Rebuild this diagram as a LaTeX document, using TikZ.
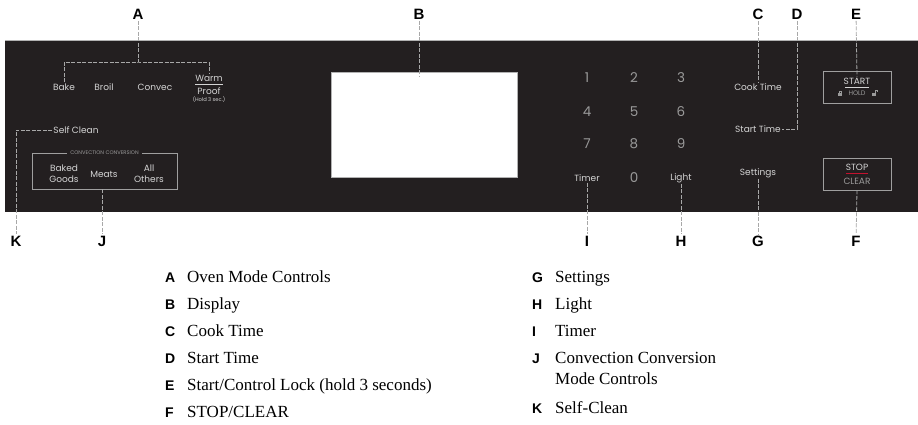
\documentclass[tikz,border=0pt]{standalone}
\usepackage{fontspec}
\setmainfont{Liberation Serif}
\newfontfamily\keyfont{Liberation Sans}
\newfontfamily\panelfont{Poppins}
\definecolor{panelbg}{HTML}{231F20}
\definecolor{paneltext}{HTML}{D4D4D4}
\definecolor{digitgray}{HTML}{9A9A9A}
\definecolor{leadergray}{HTML}{A8A8A8}
\definecolor{stopred}{HTML}{C4122F}
\begin{document}
\begin{tikzpicture}[x=1pt,y=-1pt,
  callout/.style={font=\keyfont\bfseries\fontsize{15}{15}\selectfont,inner sep=1.5pt},
  leader/.style={draw=leadergray,line width=0.8pt,dash pattern=on 4pt off 1.5pt},
  btn/.style={font=\panelfont\fontsize{9}{11}\selectfont,text=paneltext,inner sep=1pt},
  tinytext/.style={font=\panelfont\fontsize{5.2}{6}\selectfont,text=digitgray,inner sep=1pt},
  digit/.style={font=\panelfont\fontsize{13.5}{14}\selectfont,text=digitgray},
  frame/.style={draw=gray!75,line width=0.8pt,inner sep=0pt},
  keyletter/.style={font=\keyfont\bfseries\fontsize{14}{14}\selectfont,anchor=base west,inner sep=0pt},
  keytext/.style={font=\fontsize{17}{21}\selectfont,anchor=base west,align=left,inner sep=0pt}]
\useasboundingbox (0,0) rectangle (918,424);

% panel and display
\fill[panelbg] (5,40) rectangle (918,212);
\draw[gray!60,line width=0.5pt] (5,40) -- (918,40);
\node[fill=white,draw=gray!60,minimum width=186pt,minimum height=105pt,inner sep=0pt] (display) at (424,124.5) {};

% callout letters
\node[callout] (A) at (138,14) {A};
\node[callout] (B) at (419,14) {B};
\node[callout] (C) at (758,14) {C};
\node[callout] (D) at (797,14) {D};
\node[callout] (E) at (856,14) {E};
\node[callout] (K) at (16,241) {K};
\node[callout] (J) at (102,241) {J};
\node[callout] (I) at (587,241) {I};
\node[callout] (H) at (681,241) {H};
\node[callout] (G) at (758,241) {G};
\node[callout] (F) at (856,241) {F};

% oven modes
\node[btn] (bake) at (64,87) {Bake};
\node[btn] (broil) at (104,87) {Broil};
\node[btn] (convec) at (155,87) {Convec};
\node[btn] (warm) at (209,78) {Warm};
\node[btn] (proof) at (209,91) {Proof};
\node[tinytext,text=paneltext] (holdsec) at (209,99.5) {(Hold 3 sec.)};
\draw[paneltext,line width=0.6pt] (195,84) -- (223,84);
\node[btn] (selfclean) at (76,130) {Self Clean};

% convection conversion
\node[frame,minimum width=145pt,minimum height=36pt] (convbox) at (104.5,171) {};
\node[tinytext,fill=panelbg,inner xsep=3pt] (convtitle) at (convbox.north) {CONVECTION CONVERSION};
\node[btn,align=center] (baked) at (64,174) {Baked\\Goods};
\node[btn] (meats) at (104,174) {Meats};
\node[btn,align=center] (others) at (149,174) {All\\Others};

% keypad
\foreach \d/\x/\y in {1/587/78,2/634/78,3/681/78,4/587/112,5/634/112,6/681/112,7/587/144,8/634/144,9/681/144,0/634/178}
  \node[digit] (d\d) at (\x,\y) {\d};
\node[btn] (timer) at (587,178) {Timer};
\node[btn] (light) at (681,178) {Light};
\node[btn] (cooktime) at (758,87) {Cook Time};
\node[btn] (starttime) at (758,129) {Start Time};
\node[btn] (settings) at (758,173) {Settings};

% start / stop pads
\node[frame,minimum width=68pt,minimum height=32pt] (startbox) at (857,87) {};
\node[btn] (starttext) at (857,81) {START};
\draw[paneltext,line width=0.6pt] (845,87) -- (869,87);
\node[tinytext,font=\panelfont\fontsize{6.5}{7}\selectfont] (hold) at (857,93.5) {HOLD};
\fill[digitgray] (838,92.5) rectangle (842,95.5);
\draw[digitgray,line width=0.5pt] (838.8,92.5) -- (838.8,90.8) -- (841.2,90.8) -- (841.2,92.5);
\fill[digitgray] (872,92.5) rectangle (876,95.5);
\draw[digitgray,line width=0.5pt] (875.2,92.5) -- (875.2,90.3) -- (877.6,90.3) -- (877.6,91.5);
\node[frame,minimum width=68pt,minimum height=32pt] (stopbox) at (857,174) {};
\node[btn] (stoptext) at (857,167) {STOP};
\draw[stopred,line width=0.8pt] (846,173) -- (868,173);
\node[btn,text=digitgray] (cleartext) at (857,181) {CLEAR};

% leaders
\coordinate (modebar) at (138,62);
\coordinate (dispmark) at (419,77);
\draw[leader] (A) -- (modebar);
\draw[leader] (bake.north) |- (modebar) -| (warm.north);
\draw[leader] (B) -- (dispmark);
\draw[leader] (C) -- (cooktime.north);
\draw[leader] (D) |- (starttime.east);
\draw[leader] (E) -- (starttext.north);
\draw[leader] (stopbox.south) -- (F);
\draw[leader] (settings.south) -- (G);
\draw[leader] (light.south) -- (H);
\draw[leader] (timer.south) -- (I);
\draw[leader] (J|-convbox.south) -- (J);
\draw[leader] (selfclean.west) -| (K);

% key list
\foreach \k/\t [count=\i] in {A/{Oven Mode Controls},B/{Display},C/{Cook Time},D/{Start Time},E/{Start/Control Lock (hold 3 seconds)},F/{STOP/CLEAR}} {
  \node[keyletter] (key\k) at (165,{282+27*(\i-1)}) {\k};
  \node[keytext] (txt\k) at (187,{282+27*(\i-1)}) {\t};
}
\foreach \k/\t/\y/\ty in {G/{Settings}/282/282,H/{Light}/309/309,I/{Timer}/336/336,J/{Convection Conversion\\Mode Controls}/363/384,K/{Self-Clean}/413/413} {
  \node[keyletter] (key\k) at (532,\y) {\k};
  \node[keytext] (txt\k) at (555,\ty) {\t};
}
\end{tikzpicture}
\end{document}
